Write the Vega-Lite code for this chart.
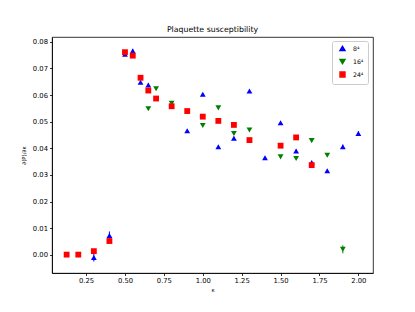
{
  "$schema": "https://vega.github.io/schema/vega-lite/v6.json",
  "width": 321,
  "height": 236,
  "autosize": {"type": "none"},
  "padding": {"left": 52, "top": 37, "right": 42, "bottom": 39},
  "background": "white",
  "title": {"text": "Plaquette susceptibility", "fontSize": 7.8, "fontWeight": "normal", "font": "DejaVu Sans", "color": "black", "offset": 3},
  "data": {"values": [
    {"kappa": 0.3, "value": -0.001, "err": 0.0015, "lattice": "8⁴"},
    {"kappa": 0.4, "value": 0.0073, "err": 0.0015, "lattice": "8⁴"},
    {"kappa": 0.5, "value": 0.0753, "err": 0.0004, "lattice": "8⁴"},
    {"kappa": 0.55, "value": 0.0766, "err": 0.0004, "lattice": "8⁴"},
    {"kappa": 0.6, "value": 0.0648, "err": 0.0004, "lattice": "8⁴"},
    {"kappa": 0.65, "value": 0.0638, "err": 0.0006, "lattice": "8⁴"},
    {"kappa": 0.9, "value": 0.0466, "err": 0.0004, "lattice": "8⁴"},
    {"kappa": 1.0, "value": 0.0603, "err": 0.0004, "lattice": "8⁴"},
    {"kappa": 1.1, "value": 0.0406, "err": 0.0004, "lattice": "8⁴"},
    {"kappa": 1.2, "value": 0.0438, "err": 0.0006, "lattice": "8⁴"},
    {"kappa": 1.3, "value": 0.0615, "err": 0.0004, "lattice": "8⁴"},
    {"kappa": 1.4, "value": 0.0365, "err": 0.0004, "lattice": "8⁴"},
    {"kappa": 1.5, "value": 0.0496, "err": 0.0004, "lattice": "8⁴"},
    {"kappa": 1.6, "value": 0.039, "err": 0.0006, "lattice": "8⁴"},
    {"kappa": 1.7, "value": 0.0347, "err": 0.0004, "lattice": "8⁴"},
    {"kappa": 1.8, "value": 0.0316, "err": 0.0004, "lattice": "8⁴"},
    {"kappa": 1.9, "value": 0.0406, "err": 0.0008, "lattice": "8⁴"},
    {"kappa": 2.0, "value": 0.0456, "err": 0.0009, "lattice": "8⁴"},
    {"kappa": 0.65, "value": 0.0549, "err": 0.0003, "lattice": "16⁴"},
    {"kappa": 0.7, "value": 0.0624, "err": 0.0004, "lattice": "16⁴"},
    {"kappa": 0.8, "value": 0.0569, "err": 0.0003, "lattice": "16⁴"},
    {"kappa": 1.0, "value": 0.0486, "err": 0.0003, "lattice": "16⁴"},
    {"kappa": 1.1, "value": 0.0552, "err": 0.0003, "lattice": "16⁴"},
    {"kappa": 1.2, "value": 0.0456, "err": 0.0006, "lattice": "16⁴"},
    {"kappa": 1.3, "value": 0.0469, "err": 0.0003, "lattice": "16⁴"},
    {"kappa": 1.5, "value": 0.0368, "err": 0.0003, "lattice": "16⁴"},
    {"kappa": 1.6, "value": 0.0362, "err": 0.0003, "lattice": "16⁴"},
    {"kappa": 1.7, "value": 0.0429, "err": 0.0003, "lattice": "16⁴"},
    {"kappa": 1.8, "value": 0.0374, "err": 0.0003, "lattice": "16⁴"},
    {"kappa": 1.9, "value": 0.0021, "err": 0.0015, "lattice": "16⁴"},
    {"kappa": 0.125, "value": 0.0001, "err": 0.0002, "lattice": "24⁴"},
    {"kappa": 0.2, "value": 0.0001, "err": 0.0002, "lattice": "24⁴"},
    {"kappa": 0.3, "value": 0.0014, "err": 0.0003, "lattice": "24⁴"},
    {"kappa": 0.4, "value": 0.0052, "err": 0.0003, "lattice": "24⁴"},
    {"kappa": 0.5, "value": 0.0761, "err": 0.0003, "lattice": "24⁴"},
    {"kappa": 0.55, "value": 0.0748, "err": 0.0003, "lattice": "24⁴"},
    {"kappa": 0.6, "value": 0.0665, "err": 0.0003, "lattice": "24⁴"},
    {"kappa": 0.65, "value": 0.0617, "err": 0.0003, "lattice": "24⁴"},
    {"kappa": 0.7, "value": 0.0587, "err": 0.0003, "lattice": "24⁴"},
    {"kappa": 0.8, "value": 0.0558, "err": 0.0003, "lattice": "24⁴"},
    {"kappa": 0.9, "value": 0.054, "err": 0.0003, "lattice": "24⁴"},
    {"kappa": 1.0, "value": 0.0519, "err": 0.0003, "lattice": "24⁴"},
    {"kappa": 1.1, "value": 0.0503, "err": 0.0003, "lattice": "24⁴"},
    {"kappa": 1.2, "value": 0.0488, "err": 0.0003, "lattice": "24⁴"},
    {"kappa": 1.3, "value": 0.0431, "err": 0.0003, "lattice": "24⁴"},
    {"kappa": 1.5, "value": 0.041, "err": 0.0003, "lattice": "24⁴"},
    {"kappa": 1.6, "value": 0.0441, "err": 0.0003, "lattice": "24⁴"},
    {"kappa": 1.7, "value": 0.0337, "err": 0.0003, "lattice": "24⁴"}
  ]},
  "encoding": {
    "x": {"field": "kappa", "type": "quantitative", "title": "κ",
      "scale": {"domain": [0.031, 2.094], "nice": false, "zero": false},
      "axis": {"values": [0.25, 0.5, 0.75, 1.0, 1.25, 1.5, 1.75, 2.0], "format": ".2f", "labelOverlap": false}},
    "y": {"field": "value", "type": "quantitative", "title": "∂⟨P⟩/∂κ",
      "scale": {"domain": [-0.0068, 0.0818], "nice": false, "zero": false},
      "axis": {"values": [0, 0.01, 0.02, 0.03, 0.04, 0.05, 0.06, 0.07, 0.08], "format": ".2f", "labelOverlap": false}}
  },
  "layer": [
    {
      "mark": {"type": "errorbar", "ticks": false, "thickness": 1},
      "encoding": {
        "yError": {"field": "err"},
        "color": {"field": "lattice", "type": "nominal",
          "scale": {"domain": ["8⁴", "16⁴", "24⁴"], "range": ["#0000ff", "#008000", "#ff0000"]}}
      }
    },
    {
      "mark": {"type": "point", "filled": true, "opacity": 1, "size": 34},
      "encoding": {
        "color": {"field": "lattice", "type": "nominal",
          "scale": {"domain": ["8⁴", "16⁴", "24⁴"], "range": ["#0000ff", "#008000", "#ff0000"]},
          "legend": {"title": null, "orient": "none", "legendX": 280, "legendY": 4,
            "symbolSize": 24, "labelFontSize": 6.2, "labelFont": "DejaVu Sans", "labelColor": "black",
            "rowPadding": 2, "padding": 4, "strokeColor": "#cccccc", "fillColor": "white", "cornerRadius": 2,
            "symbolOffset": 3, "labelOffset": 7}},
        "shape": {"field": "lattice", "type": "nominal",
          "scale": {"domain": ["8⁴", "16⁴", "24⁴"], "range": ["triangle-up", "triangle-down", "square"]}}
      }
    }
  ],
  "config": {
    "view": {"stroke": "black", "strokeWidth": 0.8},
    "axis": {"grid": false, "domainColor": "black", "domainWidth": 0.8, "tickColor": "black", "tickWidth": 0.8, "tickSize": 2.5,
      "labelFontSize": 6.8, "labelFont": "DejaVu Sans", "labelColor": "black", "labelPadding": 2, "labelOverlap": false,
      "titleFontSize": 5.5, "titleFont": "DejaVu Sans", "titleFontWeight": "normal", "titleColor": "black"},
    "axisY": {"titlePadding": 6},
    "axisX": {"titlePadding": 3},
    "legend": {"symbolFillColor": null}
  }
}
